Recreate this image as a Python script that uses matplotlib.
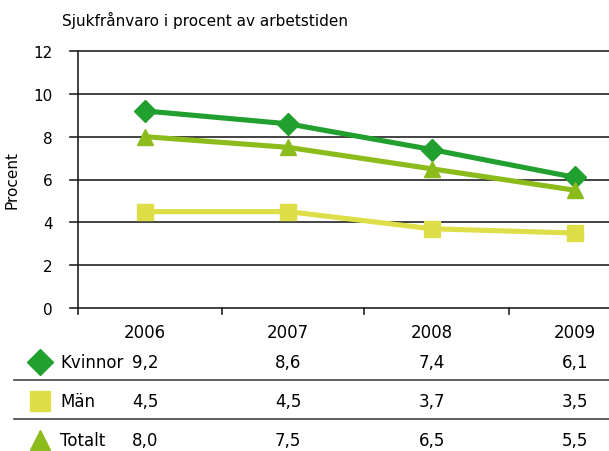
import matplotlib
matplotlib.use("Agg")
import matplotlib.pyplot as plt

years = ["2006", "2007", "2008", "2009"]
kvinnor = [9.2, 8.6, 7.4, 6.1]
man = [4.5, 4.5, 3.7, 3.5]
totalt = [8.0, 7.5, 6.5, 5.5]

series = [
    ("Kvinnor", kvinnor, "#21a02f", "D"),
    ("Män", man, "#dede48", "s"),
    ("Totalt", totalt, "#8cbb1c", "^"),
]

plt.rcParams["font.family"] = ["DejaVu Sans"]
W, H = 609, 452
fig = plt.figure(figsize=(W / 100, H / 100), dpi=100)
ax = fig.add_axes([78 / W, 1 - 309 / H, 1 - 78 / W, (309 - 52) / H])

x = list(range(len(years)))
for name, vals, color, marker in series:
    ax.plot(x, vals, color=color, lw=3.7, marker=marker,
            ms=12 if marker != "D" else 11, mec=color, mfc=color,
            solid_capstyle="butt", zorder=3)

step = 143.3
ax.set_ylim(0, 12)
ax.set_xlim((78 - 145) / step, (W - 145) / step)
ax.set_yticks(range(0, 13, 2))
ax.set_yticklabels([str(v) for v in range(0, 13, 2)], fontsize=11)
ax.tick_params(axis="y", length=0, pad=18)
ax.set_xticks([])
for v in range(0, 13, 2):
    ax.axhline(v, color="#222222", lw=1.2, zorder=1, xmin=-8 / (W - 78), clip_on=False)
for b in [(78 - 145) / step, 0.535, 1.53, 2.54]:
    ax.plot([b, b], [0, -0.3], color="#222222", lw=1.2, clip_on=False)
for s in ["top", "right", "bottom"]:
    ax.spines[s].set_visible(False)
ax.spines["left"].set_color("#222222")
ax.spines["left"].set_linewidth(1.2)
ax.set_ylabel("Procent", fontsize=11)
ax.yaxis.set_label_coords(-58 / (W - 78), 0.5)

fig.text(62 / W, 1 - 20 / H, "Sjukfrånvaro i procent av arbetstiden",
         fontsize=11, va="center", ha="left")

# year header and table below
for i, yr in enumerate(years):
    xp = ax.transData.transform((i, 0))[0] / W
    fig.text(xp, 1 - 333 / H, yr, fontsize=12, ha="center", va="center")

row_y = [363, 402, 441]
for (name, vals, color, marker), ry in zip(series, row_y):
    fig.lines.append(plt.Line2D([40 / W], [1 - ry / H], marker=marker,
                                color=color, ms=14 if marker != "D" else 13,
                                transform=fig.transFigure, ls="none"))
    fig.text(60 / W, 1 - ry / H, name, fontsize=12, ha="left", va="center")
    for i, v in enumerate(vals):
        xp = ax.transData.transform((i, 0))[0] / W
        fig.text(xp, 1 - ry / H, f"{v:.1f}".replace(".", ","), fontsize=12,
                 ha="center", va="center")

for sy in [381, 420]:
    fig.lines.append(plt.Line2D([14 / W, 1], [1 - sy / H] * 2, color="#444444",
                                lw=1.2, transform=fig.transFigure))

fig.savefig("out.png", dpi=100)
